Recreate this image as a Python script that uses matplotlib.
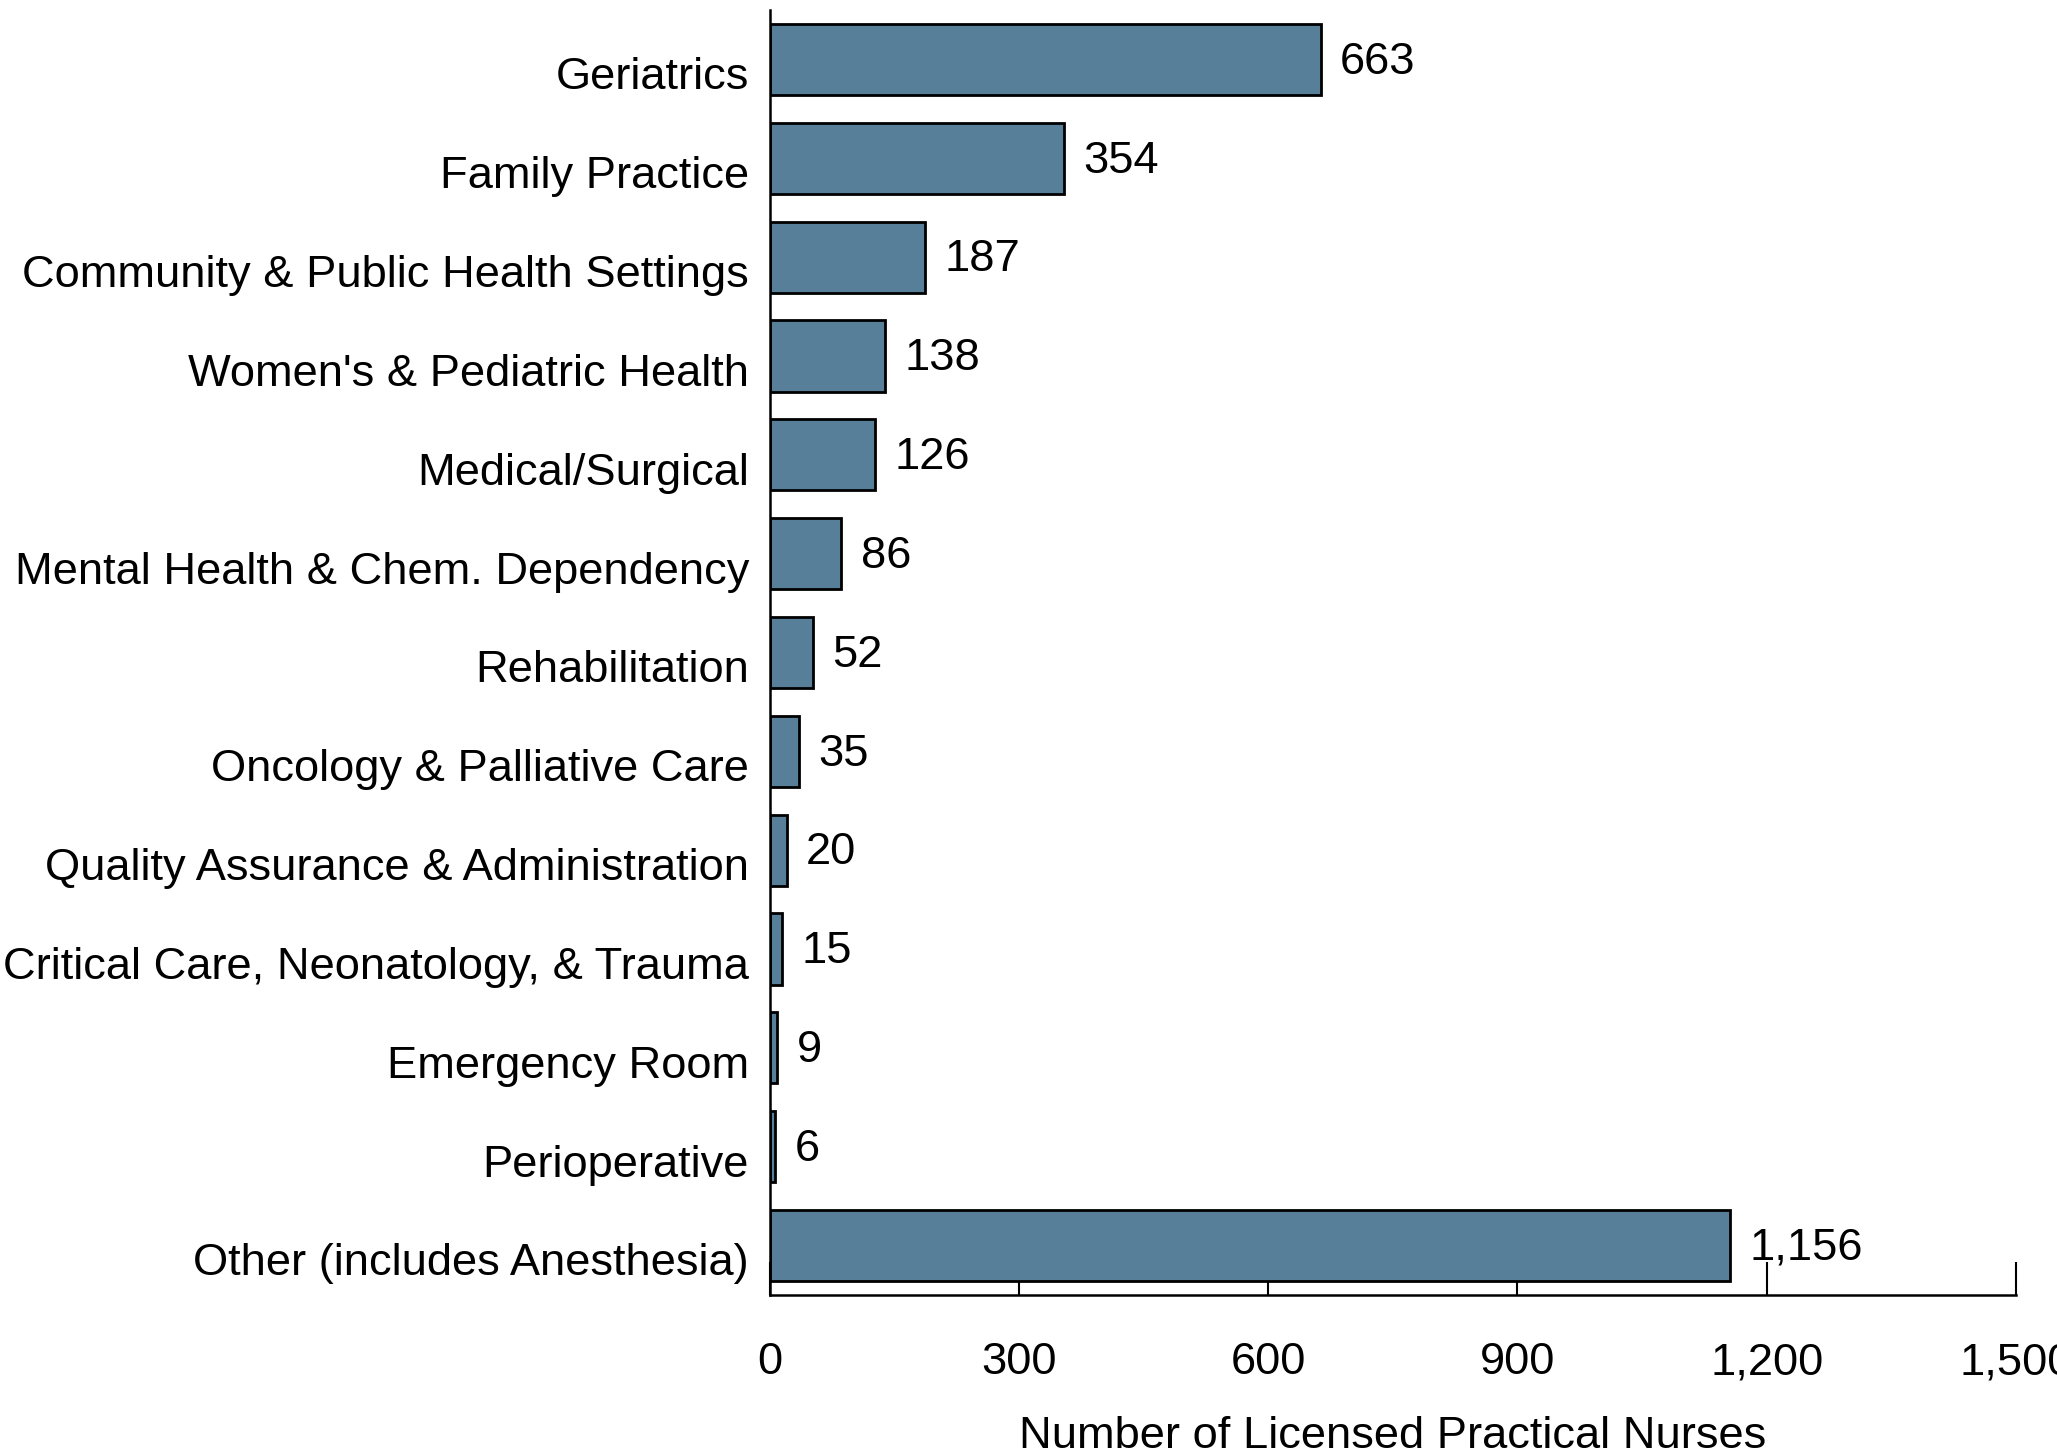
import matplotlib
matplotlib.use("Agg")
import matplotlib.pyplot as plt
import matplotlib.transforms as mtransforms
from matplotlib.ticker import FuncFormatter

categories = [
    "Geriatrics",
    "Family Practice",
    "Community & Public Health Settings",
    "Women's & Pediatric Health",
    "Medical/Surgical",
    "Mental Health & Chem. Dependency",
    "Rehabilitation",
    "Oncology & Palliative Care",
    "Quality Assurance & Administration",
    "Critical Care, Neonatology, & Trauma",
    "Emergency Room",
    "Perioperative",
    "Other (includes Anesthesia)",
]
values = [663, 354, 187, 138, 126, 86, 52, 35, 20, 15, 9, 6, 1156]
x_ticks = [0, 300, 600, 900, 1200, 1500]

plt.rcParams["font.family"] = ["Liberation Sans", "DejaVu Sans"]
FS = 32.6

fig = plt.figure(figsize=(20.57, 14.54), dpi=100)
ax = fig.add_axes([0.3743, 0.1094, 0.6057, 0.8837])

ypos = list(range(len(categories)))
bars = ax.barh(ypos, values, height=0.72, color="#587f9a",
               edgecolor="black", linewidth=2, zorder=2)

for y, v in zip(ypos, values):
    ax.annotate(f"{v:,}", xy=(v, y), xytext=(14, -2), textcoords="offset points",
                ha="left", va="center", fontsize=FS, color="black", zorder=3)

ax.set_ylim(len(categories) - 0.5, -0.5)
ax.set_xlim(0, 1500)
ax.set_yticks(ypos)
ax.set_yticklabels(categories, fontsize=FS)
ax.set_xticks(x_ticks)
ax.xaxis.set_major_formatter(FuncFormatter(lambda v, p: f"{int(v):,}"))

ax.tick_params(axis="y", length=0, pad=15)
ax.tick_params(axis="x", direction="in", length=24, width=1.5, pad=34,
               labelsize=FS)
ax.set_axisbelow(True)

# nudge the category labels slightly downward
shift = mtransforms.ScaledTranslation(0, -10 / 72, fig.dpi_scale_trans)
for lbl in ax.get_yticklabels():
    lbl.set_transform(lbl.get_transform() + shift)

for side in ("top", "right"):
    ax.spines[side].set_visible(False)
ax.spines["left"].set_linewidth(1.8)
ax.spines["bottom"].set_linewidth(1.8)

ax.set_xlabel("Number of Licensed Practical Nurses", fontsize=FS, labelpad=24)

fig.savefig("out.png", dpi=100, facecolor="white")
